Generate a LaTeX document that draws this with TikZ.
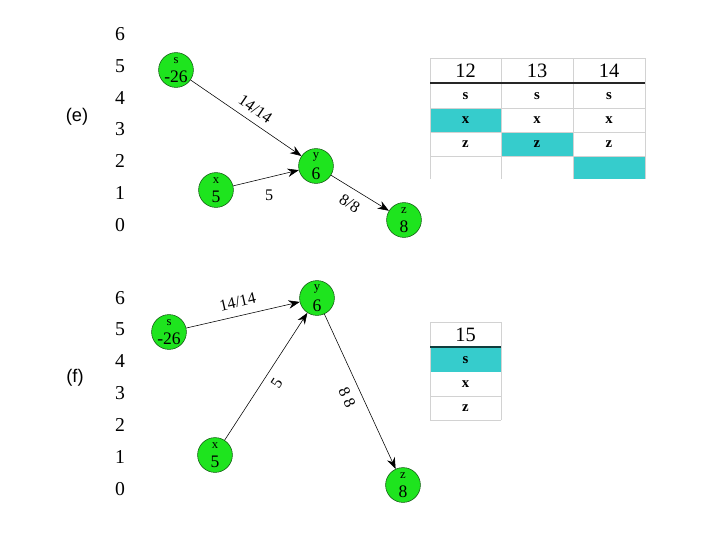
\documentclass[tikz,border=0pt]{standalone}
\usepackage{fontspec}
\setmainfont{Liberation Serif}
\newfontfamily\sanslbl{Liberation Sans}
\usetikzlibrary{arrows.meta}
\definecolor{ngreen}{RGB}{30,228,30}
\definecolor{nborder}{RGB}{20,90,20}
\definecolor{ncyan}{RGB}{54,204,204}
\definecolor{gridgray}{RGB}{210,210,210}
\newcommand{\vtext}[2]{{\fontsize{9}{9}\selectfont #1}\\[3.5pt]{\fontsize{12.5}{12}\selectfont #2}}
\begin{document}
\begin{tikzpicture}[x=0.025cm,y=-0.025cm,
 vert/.style={circle,draw=nborder,fill=ngreen,minimum size=0.87cm,inner sep=0pt,align=center,font=\fontsize{11}{10}\selectfont},
 axis/.style={font=\fontsize{14}{14}\selectfont},
 edge/.style={-{Stealth[length=8pt,width=6pt]},thin},
 elab/.style={font=\fontsize{11.5}{11.5}\selectfont,inner sep=2pt},
 cell/.style={font=\bfseries\fontsize{10.5}{10.5}\selectfont},
 head/.style={font=\fontsize{14.5}{14.5}\selectfont},
 panel/.style={font=\sanslbl\fontsize{13}{13}\selectfont},
 gline/.style={draw=gridgray,line width=0.6pt},
 hline/.style={draw=black!85,line width=1pt}]
\useasboundingbox (0,0) rectangle (720,540);

% panel labels
\node[panel] (pe) at (77,117) {(e)};
\node[panel] (pf) at (75,378) {(f)};

% axes
\foreach \v/\yy in {6/34,5/66,4/98,3/129,2/161,1/193,0/225}
  \node[axis] (ae\v) at (120,\yy) {\v};
\foreach \v/\yy in {6/298,5/329,4/361,3/393,2/425,1/457,0/489}
  \node[axis] (af\v) at (120,\yy) {\v};

% graph (e)
\node[vert] (s1) at (176,70) {\vtext{s}{-26}};
\node[vert] (x1) at (216,190) {\vtext{x}{5}};
\node[vert] (y1) at (316,166) {\vtext{y}{6}};
\node[vert] (z1) at (404,220) {\vtext{z}{8}};
\draw[edge] (s1) -- node[elab,sloped,above=3pt,pos=0.52] {14/14} (y1);
\draw[edge] (x1) -- node[elab,below=7pt,pos=0.55] {5} (y1);
\draw[edge] (y1) -- node[elab,sloped,below=4pt,pos=0.45] {8/8} (z1);

% graph (f)
\node[vert] (s2) at (169,332) {\vtext{s}{-26}};
\node[vert] (x2) at (215,455) {\vtext{x}{5}};
\node[vert] (y2) at (317,298) {\vtext{y}{6}};
\node[vert] (z2) at (403,485) {\vtext{z}{8}};
\draw[edge] (s2) -- node[elab,sloped,above=4pt,pos=0.48] {14/14} (y2);
\draw[edge] (x2) -- node[elab,sloped,below=3pt,pos=0.5] {5} (y2);
\draw[edge] (y2) -- node[elab,sloped,below=4pt,pos=0.5] {8 8} (z2);

% table (e)
\fill[ncyan] (430,108) rectangle (501,132);
\fill[ncyan] (501,132) rectangle (573,156);
\fill[ncyan] (573,156) rectangle (645,179);
\foreach \yy in {58,108,132,156}
  \draw[gline] (430,\yy) -- (645,\yy);
\foreach \xx in {430,501,573,645}
  \draw[gline] (\xx,58) -- (\xx,179);
\draw[hline] (430,83) -- (645,83);
\node[head] (h12) at (465.5,71) {12};
\node[head] (h13) at (537,71) {13};
\node[head] (h14) at (609,71) {14};
\foreach \c/\xx in {a/465.5,b/537,c/609}{
  \node[cell] (ts\c) at (\xx,96) {s};
  \node[cell] (tx\c) at (\xx,120) {x};
  \node[cell] (tz\c) at (\xx,144) {z};
}

% table (f)
\fill[ncyan] (430,347) rectangle (501,372);
\foreach \yy in {322,396,420}
  \draw[gline] (430,\yy) -- (501,\yy);
\foreach \xx in {430,501}
  \draw[gline] (\xx,322) -- (\xx,420);
\draw[hline,draw=black!70!ncyan] (430,347) -- (501,347);
\node[head] (h15) at (465.5,335) {15};
\node[cell] (us) at (465.5,360) {s};
\node[cell] (ux) at (465.5,384) {x};
\node[cell] (uz) at (465.5,408) {z};
\end{tikzpicture}
\end{document}
